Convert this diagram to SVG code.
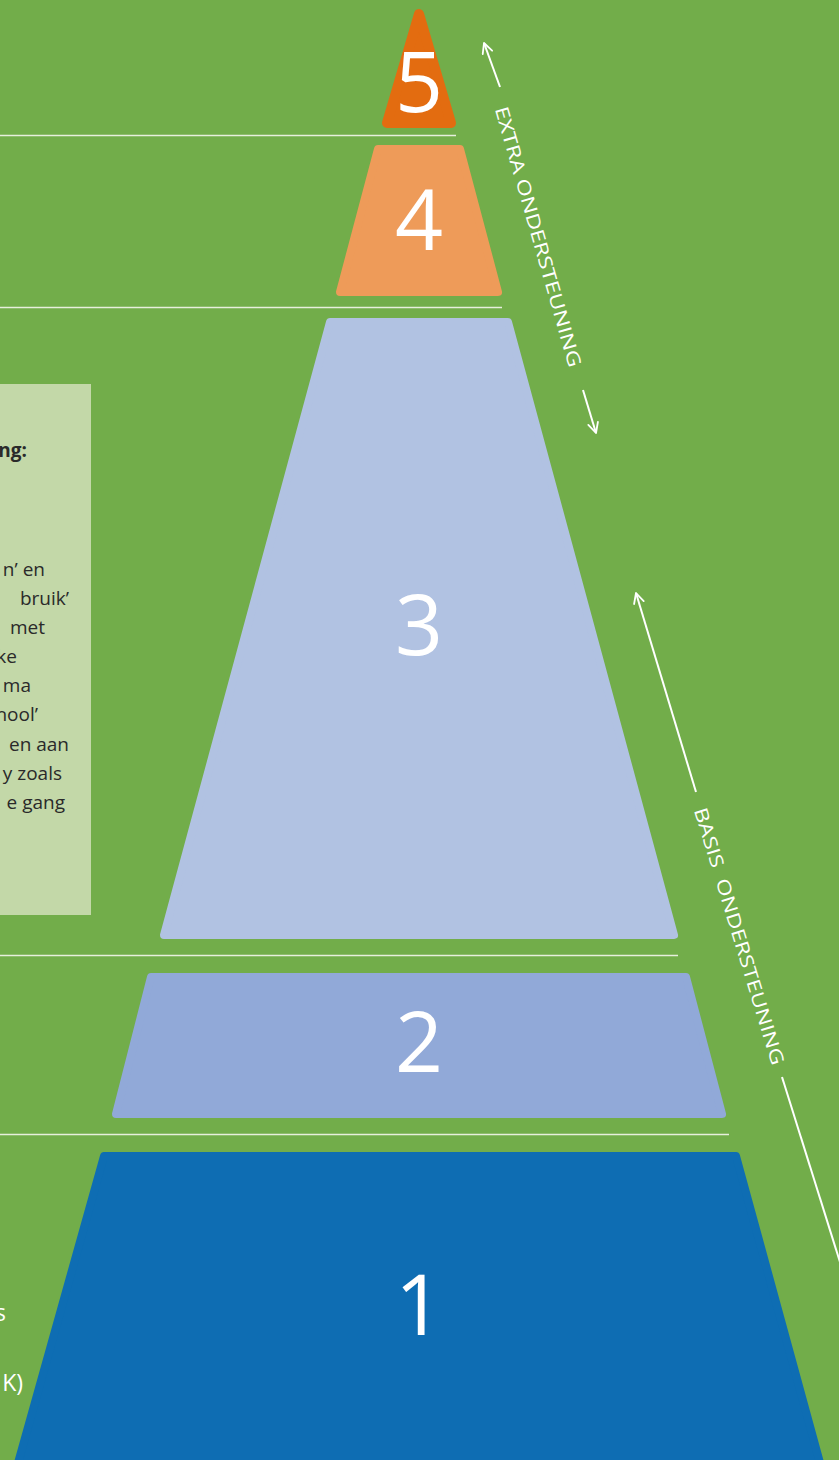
<svg xmlns="http://www.w3.org/2000/svg" width="839" height="1460" viewBox="0 0 839 1460">
<defs>
<marker id="ah" viewBox="0 0 12 12" refX="11" refY="6" markerWidth="12" markerHeight="12" markerUnits="userSpaceOnUse" orient="auto">
<path d="M1,1 L11,6 L1,11" fill="none" stroke="#ffffff" stroke-width="1.8" stroke-linecap="round" stroke-linejoin="round"/>
</marker>
<style>
.sep{stroke:#e6efdc;stroke-width:1.6}
.lvl{stroke-linejoin:round}
.num{font-family:"Open Sans","DejaVu Sans",sans-serif;font-size:84px;fill:#ffffff;text-anchor:middle}
.pt{font-family:"Open Sans","DejaVu Sans",sans-serif;font-size:19px;fill:#2a2a2a;text-anchor:end}
.wt{font-family:"Open Sans","DejaVu Sans",sans-serif;font-size:23px;fill:#ffffff;text-anchor:end}
.side{font-family:"Open Sans","DejaVu Sans",sans-serif;font-size:18.5px;fill:#ffffff}
.arr{stroke:#ffffff;stroke-width:2;fill:none;marker-end:url(#ah)}
</style>
</defs>
<rect x="0" y="0" width="839" height="1460" fill="#72ad4a"/>

<g id="separators">
<line class="sep" x1="0" y1="135.5" x2="456" y2="135.5"/>
<line class="sep" x1="0" y1="307.5" x2="502" y2="307.5"/>
<line class="sep" x1="0" y1="955.5" x2="678" y2="955.5"/>
<line class="sep" x1="0" y1="1134.5" x2="729" y2="1134.5"/>
</g>

<g id="panel">
<rect x="0" y="384" width="91" height="531" fill="#c3d8a8"/>
<text class="pt" x="27" y="457" font-weight="bold">ng:</text>
<text class="pt" x="45" y="576">n’ en</text>
<text class="pt" x="69" y="605">bruik’</text>
<text class="pt" x="45" y="634">met</text>
<text class="pt" x="17" y="663">ke</text>
<text class="pt" x="31" y="692">ma</text>
<text class="pt" x="38" y="721">hool’</text>
<text class="pt" x="69" y="751">en aan</text>
<text class="pt" x="62" y="780">y zoals</text>
<text class="pt" x="65" y="809">e gang</text>
</g>

<g id="bottom-text">
<text class="wt" x="6" y="1321">s</text>
<text class="wt" x="23" y="1391">K)</text>
</g>

<g id="level-5">
<polygon class="lvl" points="419,14 451,123 387,123" fill="#e36c10" stroke="#e36c10" stroke-width="10"/>
<text class="num" x="419" y="112">5</text>
</g>
<g id="level-4">
<polygon class="lvl" points="378,149 460,149 498,292 340,292" fill="#ee9b59" stroke="#ee9b59" stroke-width="8"/>
<text class="num" x="419" y="250">4</text>
</g>
<g id="level-3">
<polygon class="lvl" points="330,322 508,322 674,935 164,935" fill="#b1c2e2" stroke="#b1c2e2" stroke-width="8"/>
<text class="num" x="419" y="655">3</text>
</g>
<g id="level-2">
<polygon class="lvl" points="151,977 686,977 722,1114 116,1114" fill="#91a9d8" stroke="#91a9d8" stroke-width="8"/>
<text class="num" x="419" y="1072">2</text>
</g>
<g id="level-1">
<polygon class="lvl" points="104,1156 736,1156 822,1470 16,1470" fill="#0e6db3" stroke="#0e6db3" stroke-width="8"/>
<text class="num" x="419" y="1335">1</text>
</g>

<g id="connectors">
<line class="arr" x1="500" y1="87" x2="484" y2="43"/>
<line class="arr" x1="583" y1="390" x2="596" y2="433"/>
<line class="arr" x1="696" y1="792" x2="636" y2="593"/>
<line class="arr" x1="782" y1="1077" x2="850" y2="1294"/>
</g>

<g id="side-labels">
<text class="side" transform="translate(501,107) rotate(74)" y="6.5" textLength="270" lengthAdjust="spacingAndGlyphs">EXTRA ONDERSTEUNING</text>
<text class="side" transform="translate(700,808) rotate(73)" y="6.5" textLength="268" lengthAdjust="spacingAndGlyphs" xml:space="preserve">BASIS  ONDERSTEUNING</text>
</g>
</svg>
